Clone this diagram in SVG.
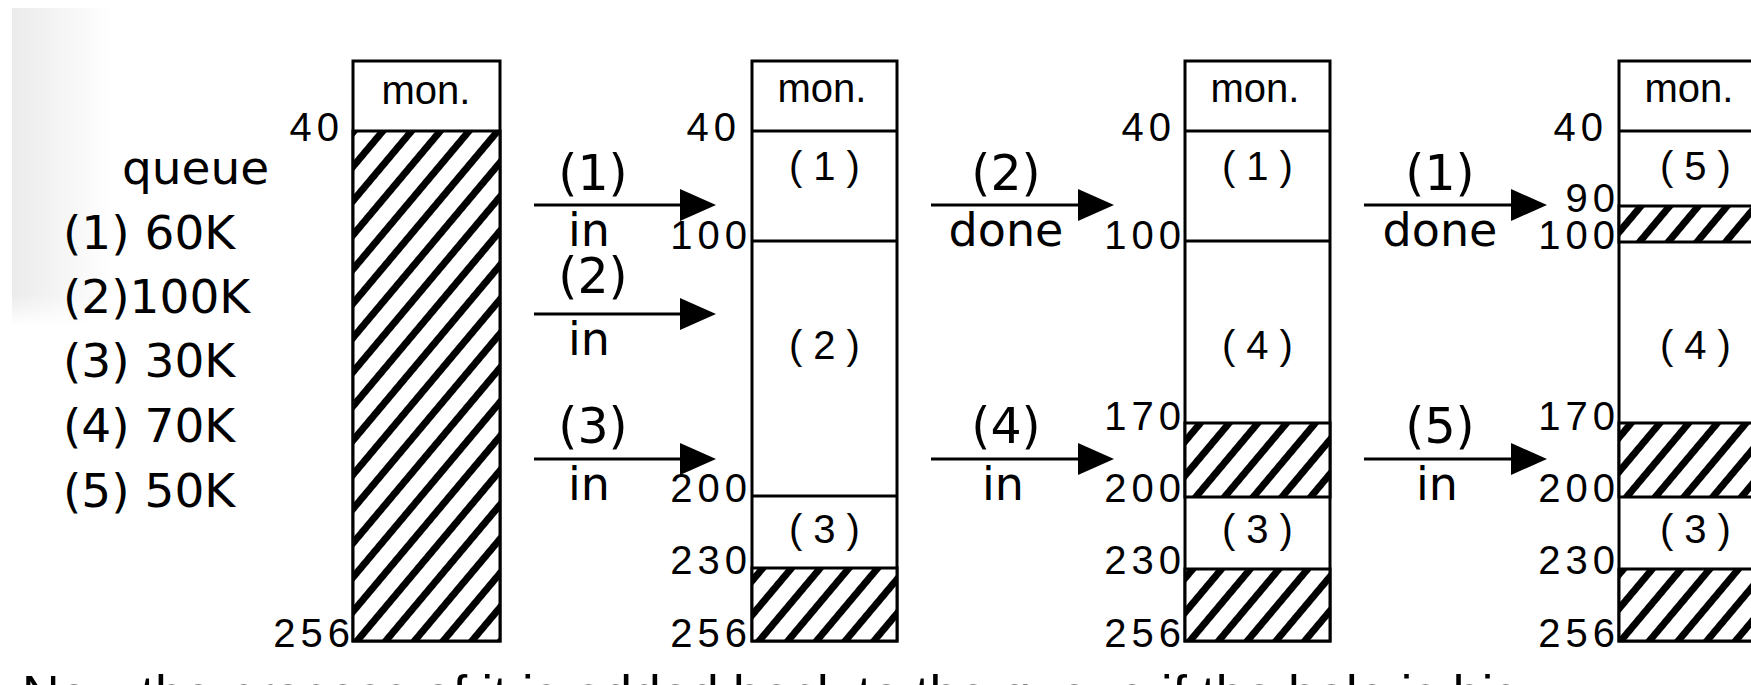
<svg xmlns="http://www.w3.org/2000/svg" width="1751" height="685" viewBox="0 0 1751 685">
  <defs>
    <linearGradient id="shade" x1="0" y1="0" x2="1" y2="0">
      <stop offset="0" stop-color="#ebebeb"/>
      <stop offset="1" stop-color="#ffffff"/>
    </linearGradient>
    <linearGradient id="shadeFade" x1="0" y1="0" x2="0" y2="1">
      <stop offset="0" stop-color="#fff" stop-opacity="0"/>
      <stop offset="0.9" stop-color="#fff" stop-opacity="0"/>
      <stop offset="1" stop-color="#fff" stop-opacity="1"/>
    </linearGradient>
    <pattern id="hatch" patternUnits="userSpaceOnUse" width="22" height="22" patternTransform="rotate(-50)">
      <rect width="22" height="22" fill="#fff"/>
      <rect width="22" height="7" fill="#000"/>
    </pattern>
    <marker id="head" markerUnits="userSpaceOnUse" markerWidth="36" markerHeight="32" refX="26" refY="16" orient="auto">
      <path d="M0,0 L36,16 L0,32 Z" fill="#000"/>
    </marker>
    <style>
      .box { fill: #fff; stroke: #000; stroke-width: 3; }
      .hatch { fill: url(#hatch); stroke: #000; stroke-width: 3; }
      .div { stroke: #000; stroke-width: 3; }
      .mon { font-family: "Liberation Sans", Arial, sans-serif; font-size: 40px; text-anchor: middle; fill: #000; }
      .addr { font-family: "Liberation Sans", Arial, sans-serif; font-size: 40px; letter-spacing: 5px; text-anchor: end; fill: #000; }
      .cell { font-family: "Liberation Sans", Arial, sans-serif; font-size: 40px; letter-spacing: 11px; text-anchor: middle; fill: #000; }
      .lbl { font-family: "DejaVu Sans", sans-serif; font-size: 46px; text-anchor: middle; fill: #000; }
      .num { font-size: 49px; }
      .queue { font-family: "DejaVu Sans", sans-serif; font-size: 47px; fill: #000; }
      .arrow { stroke: #000; stroke-width: 3; fill: none; marker-end: url(#head); }
      .note { font-family: "Liberation Sans", Arial, sans-serif; font-size: 52px; fill: #000; }
    </style>
  </defs>

  <rect width="1751" height="685" fill="#fff"/>
  <!-- soft grey shading at the top-left corner -->
  <rect x="12" y="8" width="100" height="318" fill="url(#shade)"/>
  <rect x="12" y="8" width="100" height="318" fill="url(#shadeFade)"/>

  <!-- job queue -->
  <g id="queue">
    <text class="queue" x="122" y="184" font-size="45">queue</text>
    <text class="queue" x="63" y="249">(1) 60K</text>
    <text class="queue" x="63" y="313">(2)100K</text>
    <text class="queue" x="63" y="377">(3) 30K</text>
    <text class="queue" x="63" y="442">(4) 70K</text>
    <text class="queue" x="63" y="507">(5) 50K</text>
  </g>

  <!-- memory map: initial state -->
  <g id="mem1">
    <rect class="box" x="353" y="61" width="147" height="580"/>
    <rect class="hatch" x="353" y="131" width="147" height="510"/>
    <text class="mon" x="426" y="104">mon.</text>
    <text class="addr" x="344" y="141">40</text>
    <text class="addr" x="355" y="647">256</text>
  </g>

  <!-- memory map: after (1), (2), (3) loaded -->
  <g id="mem2">
    <rect class="box" x="752" y="61" width="145" height="580"/>
    <line class="div" x1="752" y1="131" x2="897" y2="131"/>
    <line class="div" x1="752" y1="241" x2="897" y2="241"/>
    <line class="div" x1="752" y1="496" x2="897" y2="496"/>
    <rect class="hatch" x="752" y="568" width="145" height="73"/>
    <text class="mon" x="822" y="102">mon.</text>
    <text class="cell" x="830" y="180">(1)</text>
    <text class="cell" x="830" y="359">(2)</text>
    <text class="cell" x="830" y="543">(3)</text>
    <text class="addr" x="741" y="141">40</text>
    <text class="addr" x="752" y="249">100</text>
    <text class="addr" x="752" y="502">200</text>
    <text class="addr" x="752" y="574">230</text>
    <text class="addr" x="752" y="647">256</text>
  </g>

  <!-- memory map: (2) done, (4) loaded -->
  <g id="mem3">
    <rect class="box" x="1185" y="61" width="145" height="580"/>
    <line class="div" x1="1185" y1="131" x2="1330" y2="131"/>
    <line class="div" x1="1185" y1="241" x2="1330" y2="241"/>
    <rect class="hatch" x="1185" y="423" width="145" height="74"/>
    <rect class="hatch" x="1185" y="569" width="145" height="72"/>
    <text class="mon" x="1255" y="102">mon.</text>
    <text class="cell" x="1263" y="180">(1)</text>
    <text class="cell" x="1263" y="359">(4)</text>
    <text class="cell" x="1263" y="543">(3)</text>
    <text class="addr" x="1176" y="141">40</text>
    <text class="addr" x="1186" y="249">100</text>
    <text class="addr" x="1186" y="430">170</text>
    <text class="addr" x="1186" y="502">200</text>
    <text class="addr" x="1186" y="574">230</text>
    <text class="addr" x="1186" y="647">256</text>
  </g>

  <!-- memory map: (1) done, (5) loaded -->
  <g id="mem4">
    <rect class="box" x="1619" y="61" width="150" height="580"/>
    <line class="div" x1="1619" y1="131" x2="1769" y2="131"/>
    <rect class="hatch" x="1619" y="206" width="150" height="36"/>
    <rect class="hatch" x="1619" y="423" width="150" height="74"/>
    <rect class="hatch" x="1619" y="569" width="150" height="72"/>
    <text class="mon" x="1689" y="102">mon.</text>
    <text class="cell" x="1701" y="180">(5)</text>
    <text class="cell" x="1701" y="359">(4)</text>
    <text class="cell" x="1701" y="543">(3)</text>
    <text class="addr" x="1608" y="141">40</text>
    <text class="addr" x="1620" y="212">90</text>
    <text class="addr" x="1620" y="249">100</text>
    <text class="addr" x="1620" y="430">170</text>
    <text class="addr" x="1620" y="502">200</text>
    <text class="addr" x="1620" y="574">230</text>
    <text class="addr" x="1620" y="647">256</text>
  </g>

  <!-- transitions -->
  <g id="connectors">
    <line class="arrow" x1="534" y1="205" x2="706" y2="205"/>
    <text class="lbl num" x="593" y="190">(1)</text>
    <text class="lbl" x="589" y="246">in</text>

    <line class="arrow" x1="534" y1="314" x2="706" y2="314"/>
    <text class="lbl num" x="593" y="293">(2)</text>
    <text class="lbl" x="589" y="355">in</text>

    <line class="arrow" x1="534" y1="459" x2="706" y2="459"/>
    <text class="lbl num" x="593" y="443">(3)</text>
    <text class="lbl" x="589" y="500">in</text>

    <line class="arrow" x1="931" y1="205" x2="1104" y2="205"/>
    <text class="lbl num" x="1006" y="190">(2)</text>
    <text class="lbl" x="1006" y="246">done</text>

    <line class="arrow" x1="931" y1="459" x2="1104" y2="459"/>
    <text class="lbl num" x="1006" y="443">(4)</text>
    <text class="lbl" x="1003" y="500">in</text>

    <line class="arrow" x1="1364" y1="205" x2="1537" y2="205"/>
    <text class="lbl num" x="1440" y="190">(1)</text>
    <text class="lbl" x="1440" y="246">done</text>

    <line class="arrow" x1="1364" y1="459" x2="1537" y2="459"/>
    <text class="lbl num" x="1440" y="443">(5)</text>
    <text class="lbl" x="1437" y="500">in</text>
  </g>

  <!-- caption line running off the bottom edge -->
  <text class="note" x="22" y="712">Now the process of it is added back to the queue if the hole is big</text>
</svg>
